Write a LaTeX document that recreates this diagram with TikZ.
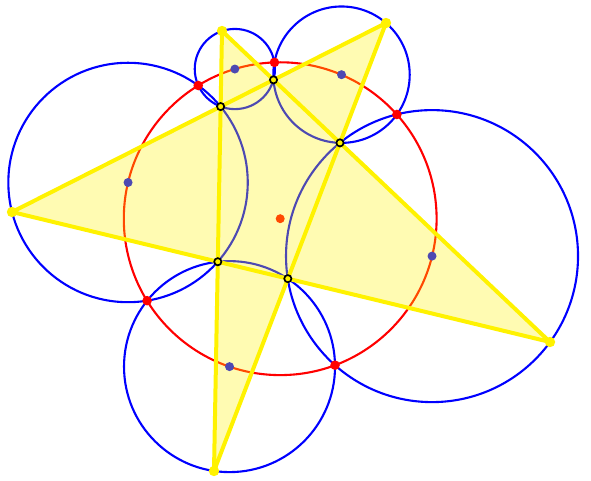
\documentclass[tikz,border=0pt]{standalone}
\usepackage{tikz}

\tikzset{
  bluecirc/.style={draw=blue,line width=2.1pt},
  redcirc/.style={draw=red,line width=2.1pt},
  starline/.style={draw=yellow,line width=4pt,line join=round,line cap=round},
  starfill/.style={fill=yellow,fill opacity=0.3},
  tipdot/.style={fill=yellow},
  miqdot/.style={fill=red},
  ctrdot/.style={fill=blue},
  innerdot/.style={fill=yellow,draw=black,line width=1.7pt}
}

\begin{document}
\begin{tikzpicture}[x=1pt,y=-1pt]
  \useasboundingbox (0,0) rectangle (591,481);

  % tips of the star
  \coordinate (A) at (222,31);
  \coordinate (B) at (386,23);
  \coordinate (C) at (550,342);
  \coordinate (D) at (214,471);
  \coordinate (E) at (12,212);

  % inner pentagon
  \coordinate (P1) at (220.63,106.57);
  \coordinate (P2) at (273.51,79.85);
  \coordinate (P3) at (339.98,142.86);
  \coordinate (P4) at (287.84,278.66);
  \coordinate (P5) at (217.80,261.73);

  % centres of the five circles
  \coordinate (OA) at (234.85,69.03);
  \coordinate (OB) at (341.51,74.68);
  \coordinate (OC) at (432.02,256.11);
  \coordinate (OD) at (229.52,366.61);
  \coordinate (OE) at (128.04,182.49);
  \coordinate (O) at (280.2,218.7);

  % miquel points
  \coordinate (M1) at (274.44,62.36);
  \coordinate (M2) at (396.90,114.48);
  \coordinate (M3) at (335.04,365.16);
  \coordinate (M4) at (147.10,300.69);
  \coordinate (M5) at (198.23,85.49);

  \draw[bluecirc] (OA) circle[radius=40.1pt];
  \draw[bluecirc] (OB) circle[radius=68.2pt];
  \draw[bluecirc] (OC) circle[radius=146.0pt];
  \draw[bluecirc] (OD) circle[radius=105.5pt];
  \draw[bluecirc] (OE) circle[radius=119.7pt];
  \draw[redcirc] (O) circle[radius=156.4pt];

  \foreach \c in {OA,OB,OC,OD,OE}
    \fill[ctrdot] (\c) circle[radius=4.5pt];
  \fill[miqdot] (O) circle[radius=4.5pt];

  \fill[starfill] (A) -- (C) -- (E) -- (B) -- (D) -- cycle;
  \draw[starline] (A) -- (C) -- (E) -- (B) -- (D) -- cycle;

  \foreach \m in {M1,M2,M3,M4,M5}
    \fill[miqdot] (\m) circle[radius=4.8pt];
  \foreach \t in {A,B,C,D,E}
    \fill[tipdot] (\t) circle[radius=5.2pt];
  \foreach \p in {P1,P2,P3,P4,P5}
    \draw[innerdot] (\p) circle[radius=3.6pt];
\end{tikzpicture}
\end{document}
